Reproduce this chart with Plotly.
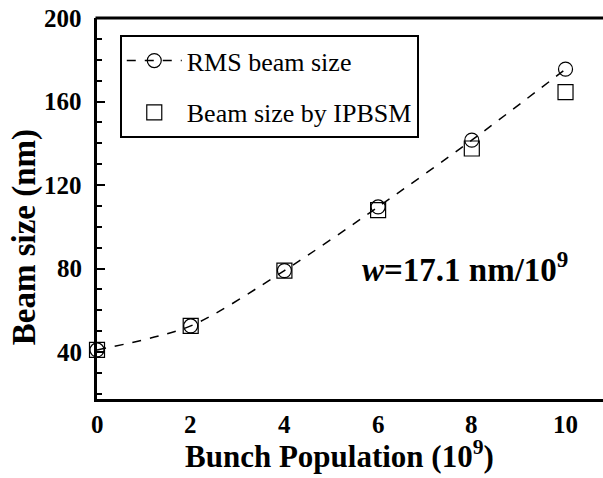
import plotly.graph_objects as go

bunch_pop = [0, 2, 4, 6, 8, 10]
rms_size = [41, 52.5, 79, 109.5, 141.5, 175.5]
ipbsm_size = [41, 52.5, 79, 108, 137.5, 164.5]
y_ticks = [40, 80, 120, 160, 200]
x_ticks = [0, 2, 4, 6, 8, 10]

FONT = "Liberation Serif"
TICK_SIZE = 25

fig = go.Figure()
fig.add_trace(go.Scatter(
    x=bunch_pop, y=rms_size, mode="lines+markers", name="RMS beam size",
    line=dict(color="black", dash="dash", width=1.5, shape="spline", smoothing=0.8),
    marker=dict(symbol="circle-open", size=14, color="black", line=dict(width=1.2)),
    cliponaxis=False, legendgroup="a"))
fig.add_trace(go.Scatter(
    x=bunch_pop, y=ipbsm_size, mode="markers", name="Beam size by IPBSM",
    marker=dict(symbol="square-open", size=15, color="black", line=dict(width=1.2)),
    cliponaxis=False, legendgroup="b"))

fig.update_layout(
    width=603, height=478,
    margin=dict(l=97, r=0, t=18, b=79),
    plot_bgcolor="white", paper_bgcolor="white",
    font=dict(family=FONT, color="black"),
    showlegend=True,
    legend=dict(x=0.045, y=0.955, xanchor="left", yanchor="top",
                bordercolor="black", borderwidth=2, bgcolor="white",
                font=dict(family=FONT, size=26), tracegroupgap=15,
                itemwidth=55),
    xaxis=dict(range=[0, 10.8], tickvals=x_ticks, showticklabels=False,
               showgrid=False, zeroline=False,
               showline=True, linecolor="black", linewidth=3, ticks="",
               automargin=False),
    yaxis=dict(range=[17.5, 200], tickvals=y_ticks, showticklabels=False,
               showgrid=False, zeroline=False,
               showline=True, linecolor="black", linewidth=3, automargin=False,
               ticks="inside", ticklen=8, tickwidth=2, tickcolor="black",
               minor=dict(dtick=10, ticks="inside", ticklen=5, tickwidth=2, tickcolor="black")),
)
# tick labels drawn at the axis tick values
for v in x_ticks:
    fig.add_annotation(x=v, y=-0.068, xref="x", yref="paper", showarrow=False,
                       xanchor="center", yanchor="middle", text="<b>%d</b>" % v,
                       font=dict(family=FONT, size=TICK_SIZE, color="black"))
for v in y_ticks:
    fig.add_annotation(x=-0.026, y=v, xref="paper", yref="y", showarrow=False,
                       xanchor="right", yanchor="middle", text="<b>%d</b>" % v,
                       font=dict(family=FONT, size=TICK_SIZE, color="black"))

fig.add_shape(type="line", xref="paper", yref="paper", x0=-0.003, x1=1, y0=1, y1=1,
              line=dict(color="black", width=3))
fig.add_annotation(x=0.48, y=-0.145, xref="paper", yref="paper", showarrow=False,
                   xanchor="center", yanchor="middle",
                   text="<b>Bunch Population (10<sup>9</sup>)</b>",
                   font=dict(family=FONT, size=31, color="black"))
fig.add_annotation(x=-0.144, y=0.425, xref="paper", yref="paper", showarrow=False,
                   xanchor="center", yanchor="middle", textangle=-90,
                   text="<b>Beam size (nm)</b>",
                   font=dict(family=FONT, size=33, color="black"))
fig.add_annotation(x=7.85, y=80.5, xref="x", yref="y", showarrow=False,
                   text="<b><i>w</i>=17.1 nm/10<sup>9</sup></b>",
                   font=dict(family=FONT, size=33, color="black"))

fig.write_html("out.html")
